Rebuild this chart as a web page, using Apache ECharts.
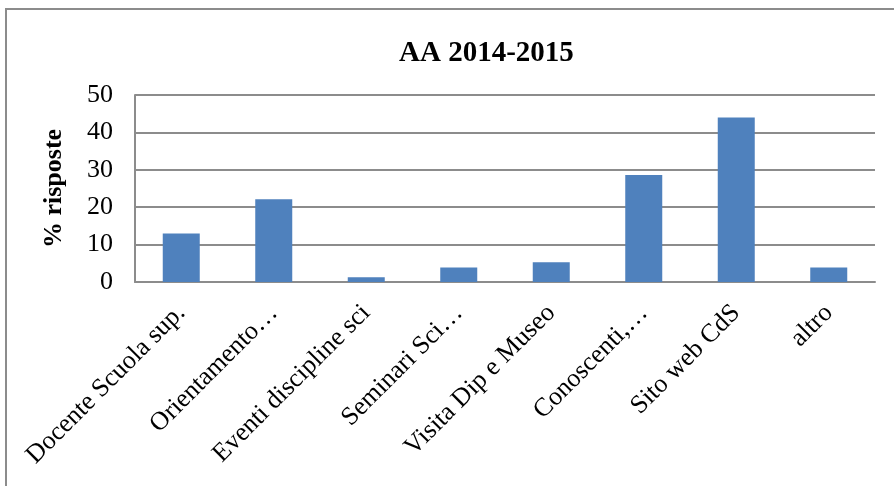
<!DOCTYPE html>
<html>
<head>
<meta charset="utf-8">
<script src="https://cdn.jsdelivr.net/npm/echarts@6/dist/echarts.min.js"></script>
<style>
  html, body { margin: 0; padding: 0; background: #fff; }
  #chart { width: 894px; height: 486px; }
</style>
</head>
<body>
<div id="chart"></div>
<script>
// dati
var categorie = ['Docente Scuola sup.', 'Orientamento…', 'Eventi discipline sci', 'Seminari Sci…',
                 'Visita Dip e Museo', 'Conoscenti,…', 'Sito web CdS', 'altro'];
var risposte = [13.0, 22.1, 1.3, 3.9, 5.3, 28.6, 44.0, 3.9];
var tickY = [0, 10, 20, 30, 40, 50];

var font = '"Liberation Serif", "Times New Roman", serif';
var grigio = '#8c8c8c';

var myChart = echarts.init(document.getElementById('chart'));
myChart.setOption({
  animation: false,
  textStyle: { fontFamily: font },
  title: {
    text: 'AA 2014-2015',
    left: 394,
    top: 34,
    textStyle: { fontFamily: font, fontSize: 29, fontWeight: 'bold', color: '#000' }
  },
  graphic: [{
    type: 'rect',
    shape: { x: 6, y: 9, width: 1000, height: 1000 },
    style: { fill: 'none', stroke: grigio, lineWidth: 2 },
    silent: true
  }],
  grid: { left: 135, right: 19, top: 95, bottom: 204 },
  xAxis: {
    type: 'category',
    data: categorie,
    axisLine: { lineStyle: { color: grigio, width: 2 } },
    axisTick: { show: false },
    axisLabel: {
      interval: 0,
      rotate: 45,
      margin: 27,
      color: '#000',
      fontFamily: font,
      fontSize: 26
    }
  },
  yAxis: {
    type: 'value',
    min: tickY[0],
    max: tickY[tickY.length - 1],
    interval: 10,
    name: '% risposte',
    nameLocation: 'middle',
    nameGap: 68,
    nameTextStyle: { fontFamily: font, fontSize: 26, fontWeight: 'bold', color: '#000' },
    axisLine: { show: true, lineStyle: { color: grigio, width: 2 } },
    axisTick: { show: false },
    axisLabel: { margin: 22, color: '#000', fontFamily: font, fontSize: 26 },
    splitLine: { lineStyle: { color: grigio, width: 2 } }
  },
  series: [{
    type: 'bar',
    data: risposte,
    barWidth: 37,
    itemStyle: { color: '#4f81bd' }
  }]
});
</script>
</body>
</html>
